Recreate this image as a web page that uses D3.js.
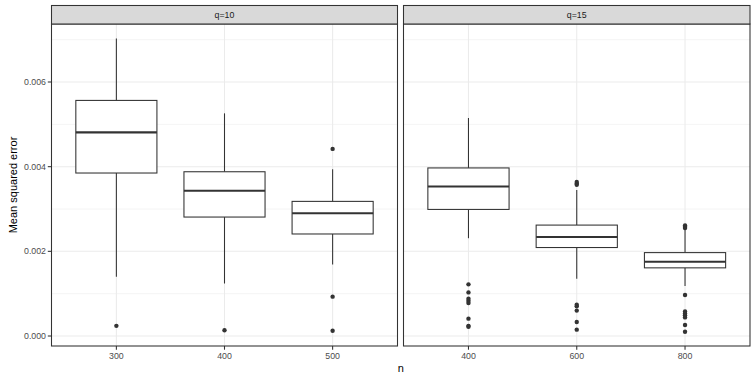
<!DOCTYPE html>
<html>
<head>
<meta charset="utf-8">
<script src="https://cdn.jsdelivr.net/npm/d3@7"></script>
<style>
  body { margin: 0; background: #fff; }
  svg { font-family: "Liberation Sans", Arial, sans-serif; }
</style>
</head>
<body>
<svg id="chart" width="756" height="378"></svg>
<script>
// facet labels and x categories
const panels = ['q=10', 'q=15']
const categories = [['300', '400', '500'], ['400', '600', '800']]

// box statistics per panel, one entry per category (units: MSE)
const whiskerLow = [[0.00140, 0.00124, 0.00169], [0.00231, 0.00135, 0.00118]]
const q1 = [[0.00385, 0.00281, 0.00241], [0.00299, 0.00209, 0.00161]]
const median = [[0.00481, 0.00343, 0.00290], [0.00353, 0.00234, 0.001755]]
const q3 = [[0.005565, 0.00388, 0.00318], [0.00397, 0.00262, 0.00197]]
const whiskerHigh = [[0.00703, 0.00526, 0.00394], [0.00515, 0.00345, 0.00252]]
const outliers = [
  [[0.00024], [0.000135], [0.00442, 0.00093, 0.000125]],
  [[0.00122, 0.00103, 0.00088, 0.00083, 0.00078, 0.00041, 0.00024, 0.00022],
   [0.00364, 0.00360, 0.00357, 0.00074, 0.00070, 0.00060, 0.00033, 0.00015],
   [0.00261, 0.00258, 0.00255, 0.00097, 0.00058, 0.00053, 0.00049, 0.00044, 0.00026, 0.00010]]
]
const yTicks = [0, 0.002, 0.004, 0.006]
const yMinor = [0.001, 0.003, 0.005, 0.007]

const svg = d3.select('#chart')
const margin = {top: 24, bottom: 346}
const panelX = [[51.5, 397.5], [403.5, 750]]

const y = d3.scaleLinear()
  .domain([-0.000236, 0.00737])
  .range([margin.bottom, margin.top])

panels.forEach((label, p) => {
  const [x0, x1] = panelX[p]
  const x = d3.scaleBand()
    .domain(categories[p])
    .range([x0, x1])
    .paddingOuter(0.1)
    .paddingInner(0)
  // band centers are spaced evenly with 0.6 expansion on each side
  const step = (x1 - x0) / 3.2
  const cx = c => x0 + step * (0.6 + categories[p].indexOf(c))
  const boxW = step * 0.75

  const g = svg.append('g').attr('class', 'panel')

  g.append('rect')
    .attr('x', x0).attr('y', margin.top)
    .attr('width', x1 - x0).attr('height', margin.bottom - margin.top)
    .attr('fill', '#fff')

  // grid
  g.selectAll('line.minor').data(yMinor).enter().append('line')
    .attr('x1', x0).attr('x2', x1)
    .attr('y1', d => y(d)).attr('y2', d => y(d))
    .attr('stroke', '#EBEBEB').attr('stroke-width', 0.55)
  g.selectAll('line.major').data(yTicks).enter().append('line')
    .attr('x1', x0).attr('x2', x1)
    .attr('y1', d => y(d)).attr('y2', d => y(d))
    .attr('stroke', '#EBEBEB').attr('stroke-width', 1.07)
  g.selectAll('line.vgrid').data(categories[p]).enter().append('line')
    .attr('x1', d => cx(d)).attr('x2', d => cx(d))
    .attr('y1', margin.top).attr('y2', margin.bottom)
    .attr('stroke', '#EBEBEB').attr('stroke-width', 1.07)

  const boxes = g.selectAll('g.box').data(categories[p]).enter().append('g')

  boxes.append('line')
    .attr('x1', d => cx(d)).attr('x2', d => cx(d))
    .attr('y1', (d, i) => y(whiskerHigh[p][i])).attr('y2', (d, i) => y(q3[p][i]))
    .attr('stroke', '#333').attr('stroke-width', 1.07)
  boxes.append('line')
    .attr('x1', d => cx(d)).attr('x2', d => cx(d))
    .attr('y1', (d, i) => y(q1[p][i])).attr('y2', (d, i) => y(whiskerLow[p][i]))
    .attr('stroke', '#333').attr('stroke-width', 1.07)
  boxes.append('rect')
    .attr('x', d => cx(d) - boxW / 2).attr('width', boxW)
    .attr('y', (d, i) => y(q3[p][i]))
    .attr('height', (d, i) => y(q1[p][i]) - y(q3[p][i]))
    .attr('fill', '#fff').attr('stroke', '#333').attr('stroke-width', 1.07)
  boxes.append('line')
    .attr('x1', d => cx(d) - boxW / 2).attr('x2', d => cx(d) + boxW / 2)
    .attr('y1', (d, i) => y(median[p][i])).attr('y2', (d, i) => y(median[p][i]))
    .attr('stroke', '#333').attr('stroke-width', 2.1)

  boxes.each(function (d, i) {
    d3.select(this).selectAll('circle').data(outliers[p][i]).enter().append('circle')
      .attr('cx', cx(d)).attr('cy', v => y(v)).attr('r', 2.2)
      .attr('fill', '#333')
  })

  // panel border
  g.append('rect')
    .attr('x', x0).attr('y', margin.top)
    .attr('width', x1 - x0).attr('height', margin.bottom - margin.top)
    .attr('fill', 'none').attr('stroke', '#333').attr('stroke-width', 1.07)

  // strip
  g.append('rect')
    .attr('x', x0).attr('y', 5.5)
    .attr('width', x1 - x0).attr('height', margin.top - 5.5)
    .attr('fill', '#D9D9D9').attr('stroke', '#333').attr('stroke-width', 1.07)
  g.append('text')
    .attr('x', (x0 + x1) / 2).attr('y', 15)
    .attr('text-anchor', 'middle').attr('dominant-baseline', 'central')
    .attr('font-size', 8.8).attr('fill', '#1A1A1A')
    .text(label)

  // x axis
  const xa = g.selectAll('g.xtick').data(categories[p]).enter().append('g')
  xa.append('line')
    .attr('x1', d => cx(d)).attr('x2', d => cx(d))
    .attr('y1', margin.bottom).attr('y2', margin.bottom + 3.7)
    .attr('stroke', '#333').attr('stroke-width', 1.07)
  xa.append('text')
    .attr('x', d => cx(d)).attr('y', margin.bottom + 12.5)
    .attr('text-anchor', 'middle')
    .attr('font-size', 8.8).attr('fill', '#4D4D4D')
    .text(d => d)
})

// y axis (left panel only)
const ya = svg.selectAll('g.ytick').data(yTicks).enter().append('g')
ya.append('line')
  .attr('x1', panelX[0][0] - 3.7).attr('x2', panelX[0][0])
  .attr('y1', d => y(d)).attr('y2', d => y(d))
  .attr('stroke', '#333').attr('stroke-width', 1.07)
ya.append('text')
  .attr('x', panelX[0][0] - 5.5).attr('y', d => y(d))
  .attr('text-anchor', 'end').attr('dominant-baseline', 'central')
  .attr('font-size', 8.8).attr('fill', '#4D4D4D')
  .text(d => d3.format('.3f')(d))

svg.append('text')
  .attr('transform', `translate(13,${(margin.top + margin.bottom) / 2}) rotate(-90)`)
  .attr('text-anchor', 'middle').attr('dominant-baseline', 'central')
  .attr('font-size', 11).attr('fill', '#000')
  .text('Mean squared error')

svg.append('text')
  .attr('x', (panelX[0][0] + panelX[1][1]) / 2).attr('y', 372)
  .attr('text-anchor', 'middle')
  .attr('font-size', 11).attr('fill', '#000')
  .text('n')
</script>
</body>
</html>
